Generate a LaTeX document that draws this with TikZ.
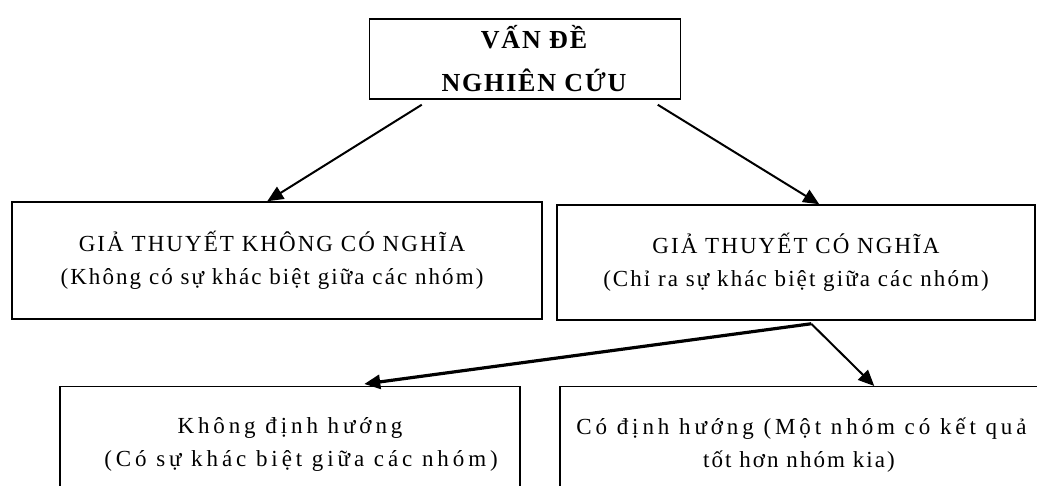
\documentclass[tikz,border=0pt]{standalone}
\usepackage{fontspec}
\setmainfont{Liberation Serif}[LetterSpace=9]
\newfontfamily\topfont{Liberation Serif}[LetterSpace=7]
\newfontfamily\widefont{Liberation Serif}[LetterSpace=17]
\usetikzlibrary{arrows.meta,calc}
\begin{document}
\begin{tikzpicture}[x=1pt,y=-1pt,
  box/.style={draw=black,line width=1.5pt,rectangle,align=center,inner sep=0pt,font=\fontsize{23}{33}\selectfont},
  conn/.style={line width=2pt,-{Triangle[length=16pt,width=14pt]}},
  connthick/.style={line width=3.2pt,-{Triangle[length=16pt,width=14pt]}}]
\useasboundingbox (0,0) rectangle (1037,486);
\clip (0,0) rectangle (1037,486);
\node[box,minimum width=311pt,minimum height=80pt,font=\topfont\bfseries\fontsize{26}{43}\selectfont] (top) at (525,59) {\hspace*{18pt}VẤN ĐỀ\\\hspace*{18pt}NGHIÊN CỨU};
\node[box,minimum width=530pt,minimum height=117pt] (nosig) at (277,260.5) {GIẢ THUYẾT KHÔNG CÓ NGHĨA\hspace*{10pt}\\(Không có sự khác biệt giữa các nhóm)\hspace*{10pt}};
\node[box,minimum width=478pt,minimum height=115pt] (sig) at (796,262.5) {GIẢ THUYẾT CÓ NGHĨA\\(Chỉ ra sự khác biệt giữa các nhóm)};
\node[box,minimum width=460pt,inner ysep=31pt,anchor=north,font=\widefont\fontsize{23}{33}\selectfont] (nodir) at (290,386) {Không định hướng\\\hspace*{22pt}(Có sự khác biệt giữa các nhóm)};
\node[box,minimum width=478pt,inner ysep=31pt,anchor=north] (dir) at (799,386) {\hspace*{5pt}{\widefont Có định hướng (Một nhóm có kết quả}\\tốt hơn nhóm kia)};
\draw[conn] ($(top.south west)+(53,5)$) -- ($(nosig.north west)+(256,0)$);
\draw[conn] ($(top.south west)+(289,5)$) -- ($(sig.north west)+(263,0)$);
\draw[connthick] ($(sig.south west)+(255,3)$) -- ($(nodir.north west)+(305,-2)$);
\draw[conn] ($(sig.south west)+(255,3)$) -- ($(dir.north west)+(315,0)$);
\end{tikzpicture}
\end{document}
